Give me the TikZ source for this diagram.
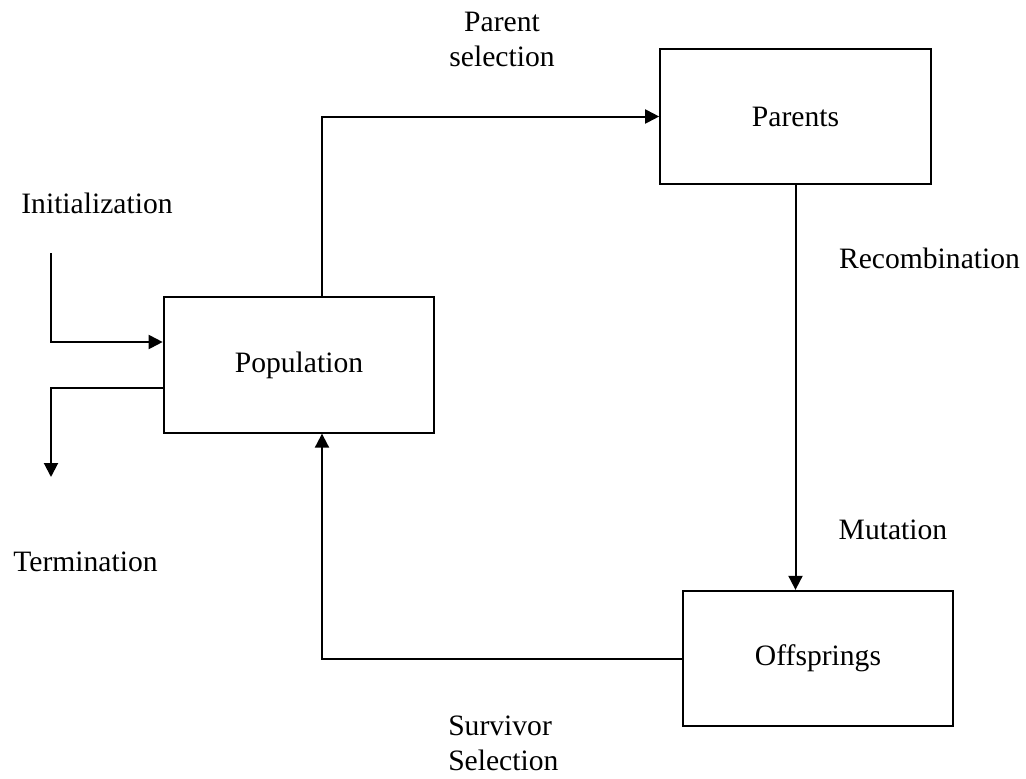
\documentclass[tikz,border=0pt]{standalone}
\usepackage{fontspec}
\setmainfont{Liberation Serif}
\usetikzlibrary{arrows.meta}
\tikzset{%
    blk/.style={draw,rectangle,line width=1.5pt,inner sep=0pt,minimum width=203pt,minimum height=101.5pt},
    lbl/.style={inner sep=0pt,align=center},
    arr/.style={line width=1.5pt,-{Triangle[length=10.5pt,width=10.5pt]}}
}

\begin{document}
\begin{tikzpicture}[x=0.75pt,y=-0.75pt,font=\fontsize{22.2}{26.3}\selectfont]
        \useasboundingbox (0,0) rectangle (1026,779);

        \node[blk] (pop) at (299,365){Population};
        \node[blk] (par) at (795.5,116.5){Parents};
        \node[blk] (off) at (818,658.5){Offsprings};

        \coordinate (ps) at (322,117);
        \coordinate (init) at (51,253);
        \coordinate (term) at (51,477);

        \node[lbl] (psel) at (502,39){Parent\\selection};
        \node[lbl] (ini) at (97,203){Initialization};
        \node[lbl] (rec) at (929.5,258){Recombination};
        \node[lbl] (mut) at (893,530){Mutation};
        \node[lbl] (ter) at (85.5,562){Termination};
        \node[lbl,align=left,anchor=west] (ssel) at (448,743){Survivor\\Selection};

        \draw[arr] (pop.north -| ps) |- (par.west);
        \draw[arr] (par.south) -- (off.north -| par.south);
        \draw[arr] (off.west) -| (pop.south -| ps);
        \draw[arr] (init) |- ([yshift=17.25pt]pop.west);
        \draw[arr] ([yshift=-17.25pt]pop.west) -| (term);
    \end{tikzpicture}
\end{document}
